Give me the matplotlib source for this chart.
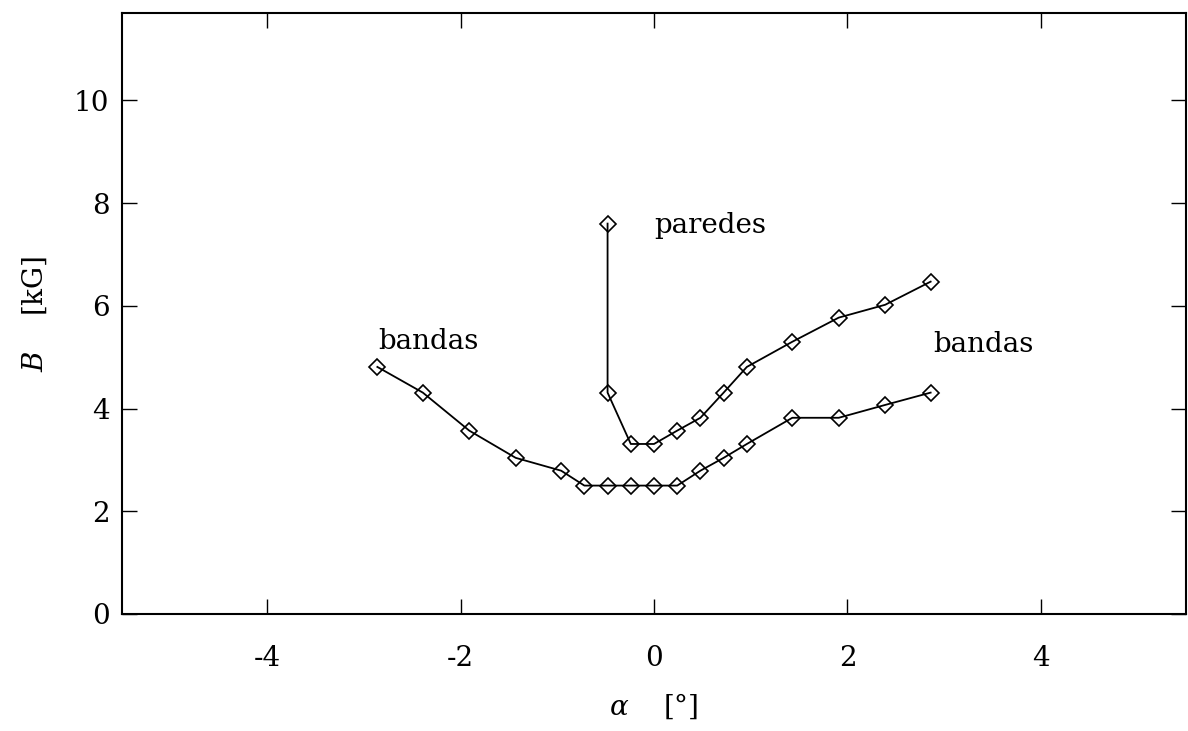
import matplotlib
matplotlib.use("Agg")
import matplotlib.pyplot as plt

# Field strength B [kG] versus tilt angle alpha [deg]
alpha_bandas = [-2.86, -2.39, -1.91, -1.43, -0.96, -0.72, -0.48, -0.24, 0.0,
                0.24, 0.48, 0.72, 0.96, 1.43, 1.91, 2.39, 2.86]
B_bandas = [4.81, 4.31, 3.57, 3.04, 2.79, 2.50, 2.50, 2.50, 2.50,
            2.50, 2.79, 3.04, 3.31, 3.82, 3.82, 4.07, 4.31]

alpha_paredes = [-0.48, -0.48, -0.24, 0.0, 0.24, 0.48, 0.72, 0.96,
                 1.43, 1.91, 2.39, 2.86]
B_paredes = [7.60, 4.31, 3.31, 3.31, 3.57, 3.82, 4.31, 4.81,
             5.30, 5.77, 6.02, 6.47]

x_ticks = [-4, -2, 0, 2, 4]
y_ticks = [0, 2, 4, 6, 8, 10]

plt.rcParams["font.family"] = ["DejaVu Serif"]
plt.rcParams["mathtext.fontset"] = "dejavuserif"
plt.rcParams["axes.unicode_minus"] = False

fig = plt.figure(figsize=(11.88, 7.31), dpi=100)
ax = fig.add_axes([122 / 1188, 117 / 731, 1064 / 1188, 601 / 731])

style = dict(color="black", lw=1.3, marker="D", markersize=8,
             mfc="none", mec="black", mew=1.2)
ax.plot(alpha_bandas, B_bandas, **style)
ax.plot(alpha_paredes, B_paredes, **style)

fs = 20
ax.text(-2.85, 5.16, "bandas", fontsize=fs, ha="left", va="baseline")
ax.text(0.0, 7.41, "paredes", fontsize=fs, ha="left", va="baseline")
ax.text(2.89, 5.10, "bandas", fontsize=fs, ha="left", va="baseline")

ax.set_xlim(-5.5, 5.5)
ax.set_ylim(0, 11.7)
ax.set_xticks(x_ticks)
ax.set_yticks(y_ticks)
ax.tick_params(direction="in", length=11, width=1.0, top=True, right=True,
               labelsize=fs)
ax.tick_params(axis="x", pad=22)
ax.tick_params(axis="y", pad=9)
for s in ax.spines.values():
    s.set_linewidth(1.5)

ax.set_xlabel(r"$\alpha$    [°]", fontsize=fs, labelpad=14)
ax.set_ylabel(r"$B$    [kG]", fontsize=fs, labelpad=18)

fig.savefig("out.png", dpi=100)
